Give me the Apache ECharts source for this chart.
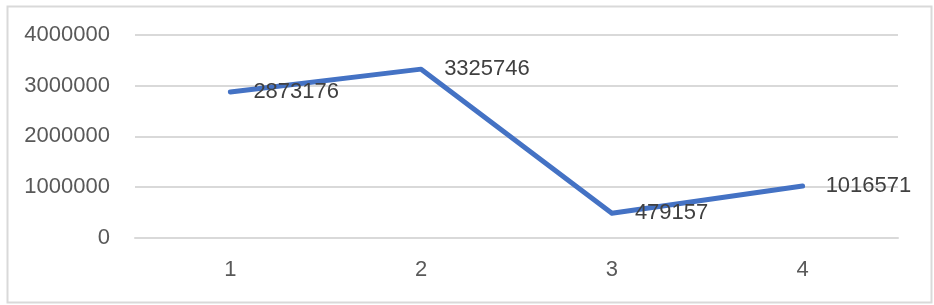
<!DOCTYPE html>
<html><head><meta charset="utf-8">
<script src="https://cdn.jsdelivr.net/npm/echarts@6/dist/echarts.min.js"></script>
<style>html,body{margin:0;padding:0;background:#fff}#c{width:934px;height:305px}</style>
</head><body><div id="c"></div>
<script>
const categories = ['1', '2', '3', '4'];
const values = [2873176, 3325746, 479157, 1016571];
const yTicks = [0, 1000000, 2000000, 3000000, 4000000];

const chart = echarts.init(document.getElementById('c'), null, {renderer: 'canvas'});
const font = '"Liberation Sans", Arial, sans-serif';
chart.setOption({
  animation: false,
  backgroundColor: '#fff',
  graphic: [{
    type: 'rect', left: 5, top: 4, z: -1,
    shape: {width: 924, height: 296},
    style: {fill: 'none', stroke: '#d9d9d9', lineWidth: 2}
  }],
  grid: {left: 135, right: 36, top: 35, bottom: 67.5},
  xAxis: {
    type: 'category', data: categories, boundaryGap: true,
    axisLine: {show: true, lineStyle: {color: '#d9d9d9', width: 2}},
    axisTick: {show: false},
    axisLabel: {color: '#595959', fontSize: 22, fontFamily: font, margin: 21}
  },
  yAxis: {
    type: 'value', min: yTicks[0], max: yTicks[yTicks.length - 1], interval: 1000000,
    axisLine: {show: false}, axisTick: {show: false},
    splitLine: {lineStyle: {color: '#d9d9d9', width: 2}},
    axisLabel: {color: '#595959', fontSize: 22, fontFamily: font, margin: 25,
      formatter: v => String(v)}
  },
  series: [{
    type: 'line', data: values, symbol: 'circle', symbolSize: 2, showSymbol: true,
    itemStyle: {color: 'rgba(68,114,196,0)', borderWidth: 0},
    lineStyle: {color: '#4472c4', width: 5, cap: 'round', join: 'round'},
    label: {show: true, position: 'right', distance: 22, color: '#404040', fontSize: 22, fontFamily: font,
      formatter: p => String(p.value)},
    labelLayout: {hideOverlap: false},
    z: 3
  }]
});
</script></body></html>
